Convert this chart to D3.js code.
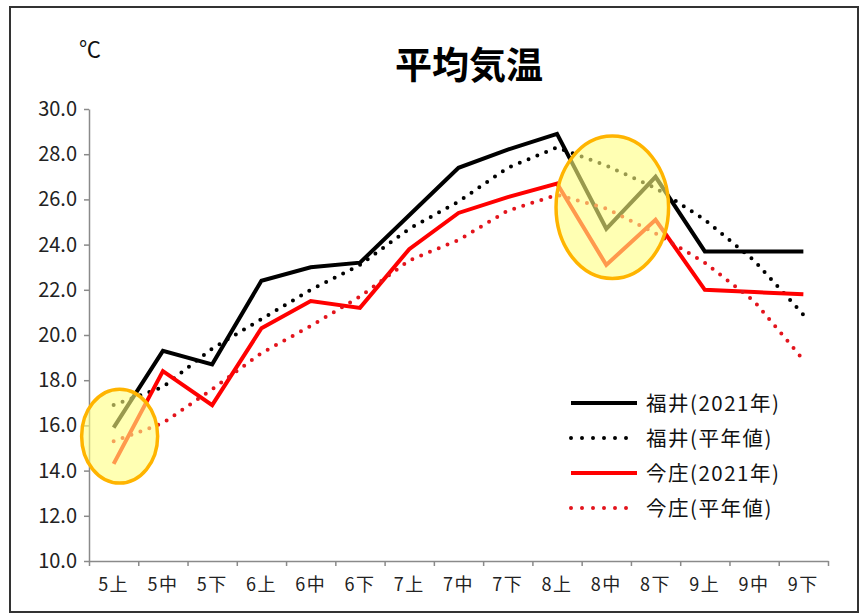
<!DOCTYPE html>
<html>
<head>
<meta charset="utf-8">
<script src="https://cdn.jsdelivr.net/npm/d3@7"></script>
<style>
  html, body { margin: 0; padding: 0; background: #fff; }
  svg { display: block; }
  text { font-family: "Noto Sans CJK JP", "Noto Sans", sans-serif; }
</style>
</head>
<body>
<svg id="chart" width="865" height="615"></svg>
<script>
// Ten-day periods (上旬・中旬・下旬) from May to September
const categories = ["5上","5中","5下","6上","6中","6下","7上","7中","7下","8上","8中","8下","9上","9中","9下"];

// Mean temperature (℃)
const fukui2021   = [15.9, 19.3, 18.7, 22.4, 23.0, 23.2, 25.3, 27.4, 28.2, 28.9, 24.7, 27.0, 23.7, 23.7, 23.7];
const fukuiNormal = [16.9, 17.7, 19.4, 20.7, 22.0, 23.1, 24.7, 25.9, 27.4, 28.3, 27.5, 26.5, 25.1, 23.3, 20.9];
const imajo2021   = [14.3, 18.4, 16.9, 20.3, 21.5, 21.2, 23.8, 25.4, 26.1, 26.7, 23.1, 25.1, 22.0, 21.9, 21.8];
const imajoNormal = [15.3, 16.1, 17.6, 19.2, 20.4, 21.7, 23.3, 24.2, 25.5, 26.2, 25.6, 24.5, 23.2, 21.5, 18.9];

const yTicks = [10, 12, 14, 16, 18, 20, 22, 24, 26, 28, 30];

const seriesNames = ["福井(2021年)", "福井(平年値)", "今庄(2021年)", "今庄(平年値)"];

// Highlighted periods and the temperature band each ellipse spans
const highlightFrom = ["5上", "8上"];
const highlightTo   = ["5上", "8下"];
const highlightLow  = [13.45, 22.5];
const highlightHigh = [17.6, 28.8];

const series = [
  { name: seriesNames[0], values: fukui2021,   color: "#000000", dotted: false },
  { name: seriesNames[1], values: fukuiNormal, color: "#000000", dotted: true },
  { name: seriesNames[2], values: imajo2021,   color: "#ff0000", dotted: false },
  { name: seriesNames[3], values: imajoNormal, color: "#e3141c", dotted: true }
];

const svg = d3.select("#chart");

// outer frame
svg.append("rect")
  .attr("x", 10).attr("y", 7).attr("width", 848).attr("height", 605)
  .attr("fill", "#fff").attr("stroke", "#333").attr("stroke-width", 2);

const plot = { left: 89, right: 828, top: 109, bottom: 561 };

const x = d3.scaleBand().domain(categories).range([plot.left, plot.right]).paddingInner(0).paddingOuter(0);
const xEdge = d3.scaleLinear().domain([0, categories.length]).range([plot.left, plot.right]);
const y = d3.scaleLinear().domain([10, 30]).range([plot.bottom, plot.top]);
const cx = d => x(d) + x.bandwidth() / 2;

// title and unit
svg.append("text")
  .attr("x", 469).attr("y", 79)
  .attr("text-anchor", "middle")
  .attr("font-size", 37).attr("font-weight", "bold").attr("fill", "#000")
  .text("平均気温");
svg.append("text")
  .attr("x", 90).attr("y", 57)
  .attr("text-anchor", "middle")
  .attr("font-size", 22).attr("fill", "#111")
  .text("℃");

// y axis
const yAxis = svg.append("g")
  .attr("transform", `translate(${plot.left},0)`)
  .call(d3.axisLeft(y).tickValues(yTicks).tickFormat(d3.format(".1f")).tickSize(5).tickSizeOuter(0).tickPadding(7));
yAxis.select(".domain").attr("stroke", "#8a8a8a").attr("stroke-width", 1.5);
yAxis.selectAll(".tick line").attr("stroke", "#8a8a8a").attr("stroke-width", 1.5);
yAxis.selectAll(".tick text")
  .attr("font-family", "'DejaVu Sans', sans-serif")
  .attr("font-size", 20).attr("fill", "#222");

// x axis: boundary ticks
const xTicks = svg.append("g")
  .attr("transform", `translate(0,${plot.bottom})`)
  .call(d3.axisBottom(xEdge).tickValues(d3.range(0, categories.length + 1)).tickFormat("").tickSize(5).tickSizeOuter(0));
xTicks.select(".domain").attr("stroke", "#8a8a8a").attr("stroke-width", 1.5);
xTicks.selectAll(".tick line").attr("stroke", "#8a8a8a").attr("stroke-width", 1.5);

// x axis: category labels
const xLabels = svg.append("g")
  .attr("transform", `translate(0,${plot.bottom})`)
  .call(d3.axisBottom(x).tickSize(0).tickPadding(17));
xLabels.select(".domain").remove();
xLabels.selectAll(".tick text")
  .attr("font-family", "'Noto Sans CJK JP', sans-serif")
  .attr("font-size", 18).attr("fill", "#222")
  .attr("letter-spacing", "1.5");

// lines
const line = d3.line()
  .x((d, i) => cx(categories[i]))
  .y(d => y(d));

series.forEach(s => {
  const p = svg.append("path")
    .datum(s.values)
    .attr("d", line)
    .attr("fill", "none")
    .attr("stroke", s.color)
    .attr("stroke-width", 4)
    .attr("stroke-linejoin", "miter");
  if (s.dotted) {
    p.attr("stroke-linecap", "round").attr("stroke-dasharray", "0 9.5");
  }
});

// translucent highlight ellipses over the periods of interest
highlightFrom.forEach((from, i) => {
  const x0 = cx(from), x1 = cx(highlightTo[i]);
  const single = from === highlightTo[i];
  const yTop = y(highlightHigh[i]), yBot = y(highlightLow[i]);
  svg.append("ellipse")
    .attr("cx", (x0 + x1) / 2 + 6)
    .attr("cy", (yTop + yBot) / 2)
    .attr("rx", (x1 - x0) / 2 + (single ? 38 : 7))
    .attr("ry", (yBot - yTop) / 2)
    .attr("fill", "#ffff80").attr("fill-opacity", 0.6)
    .attr("stroke", "#ffb400").attr("stroke-width", 3.5);
});

// legend
const legend = svg.append("g").attr("transform", "translate(569,403)");
series.forEach((s, i) => {
  const g = legend.append("g").attr("transform", `translate(0,${i * 35})`);
  const l = g.append("line")
    .attr("x1", 2).attr("x2", 68).attr("y1", 0).attr("y2", 0)
    .attr("stroke", s.color).attr("stroke-width", 4);
  if (s.dotted) {
    l.attr("stroke-linecap", "round").attr("stroke-dasharray", "0 11");
  }
  g.append("text")
    .attr("x", 77).attr("y", 7.5)
    .attr("font-size", 20.5).attr("fill", "#111")
    .attr("letter-spacing", "1.5")
    .text(s.name);
});
</script>
</body>
</html>
